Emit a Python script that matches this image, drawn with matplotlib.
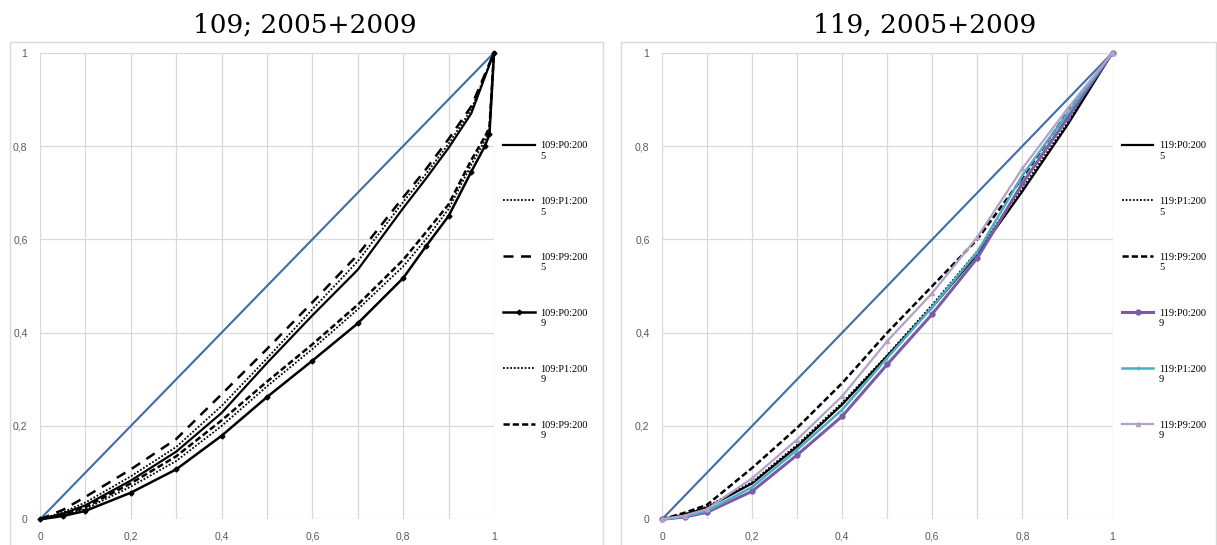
import matplotlib
matplotlib.use('Agg')
import matplotlib.pyplot as plt
from matplotlib.patches import Rectangle
from matplotlib.legend_handler import HandlerLine2D

# left panel: 109
x05 = [0, .05, .1, .2, .3, .4, .5, .6, .7, .8, .85, .9, .95, 1]
p0_05 = [0, .012, .03, .083, .145, .228, .335, .437, .535, .667, .73, .796, .87, 1]
p1_05 = [0, .015, .036, .092, .155, .243, .345, .45, .553, .68, .74, .805, .878, 1]
p9_05 = [0, .02, .048, .107, .172, .268, .365, .465, .567, .69, .75, .815, .885, 1]

x09 = [0, .05, .1, .2, .3, .4, .5, .6, .7, .8, .85, .9, .95, .98, .99, 1]
p0_09 = [0, .007, .018, .057, .107, .179, .262, .34, .42, .517, .585, .65, .745, .80, .825, 1]
p1_09 = [0, .009, .022, .07, .125, .2, .285, .365, .45, .542, .60, .665, .76, .812, .835, 1]
p9_09 = [0, .01, .026, .077, .135, .212, .295, .375, .46, .556, .615, .675, .77, .82, .84, 1]

# right panel: 119
xr = [0, .05, .1, .2, .3, .4, .5, .6, .7, .8, .9, 1]
r_p0_05 = [0, .01, .025, .077, .156, .246, .35, .455, .568, .703, .845, 1]
r_p1_05 = [0, .011, .027, .08, .16, .25, .352, .46, .575, .71, .85, 1]
r_p9_05 = [0, .014, .031, .11, .196, .292, .40, .50, .60, .732, .872, 1]
r_p0_09 = [0, .005, .015, .06, .138, .221, .332, .44, .56, .72, .86, 1]
r_p1_09 = [0, .006, .018, .069, .149, .235, .346, .455, .573, .737, .87, 1]
r_p9_09 = [0, .008, .022, .088, .171, .264, .382, .485, .605, .752, .88, 1]

diag = [0, 1]
ticks_y = [0, 0.2, 0.4, 0.6, 0.8, 1]
tick_lbl = ['0', '0,2', '0,4', '0,6', '0,8', '1']
xtick_lbl = ['0', '', '0,2', '', '0,4', '', '0,6', '', '0,8', '', '1']

W, H = 1217, 545
fig = plt.figure(figsize=(W/100, H/100), dpi=100)
fig.patch.set_facecolor('white')

# panel frames
for (x0, x1) in [(10, 603), (621, 1216)]:
    fig.patches.append(Rectangle((x0/W, -0.01), (x1-x0)/W, 1.01-42/H,
                                 transform=fig.transFigure, fill=False,
                                 edgecolor='#d9d9d9', lw=1.0))

bottom = 1 - 519.3/H
height = (519.3-52.7)/H
axL = fig.add_axes([40/W, bottom, (494-40)/W, height])
axR = fig.add_axes([662/W, bottom, (1112.5-662)/W, height])

blue = '#3f6ca6'


class TopLine(HandlerLine2D):
    # put the legend line level with the first line of the wrapped label
    def create_artists(self, legend, orig_handle, xdescent, ydescent,
                       width, height, fontsize, trans):
        arts = super().create_artists(legend, orig_handle, xdescent, ydescent,
                                      width, height, fontsize, trans)
        for a in arts:
            a.set_ydata([y + 0.6*fontsize for y in a.get_ydata()])
        return arts


def style(ax):
    ax.set_xlim(0, 1)
    ax.set_ylim(0, 1)
    ax.set_xticks([i/10 for i in range(11)])
    ax.set_yticks(ticks_y)
    ax.grid(True, color='#d9d9d9', lw=0.9)
    ax.set_axisbelow(True)
    for s in ax.spines.values():
        s.set_visible(False)
    ax.tick_params(length=0, labelsize=7.5, colors='#595959')
    ax.set_yticklabels(tick_lbl, family='Liberation Sans')
    ax.set_xticklabels(xtick_lbl, family='Liberation Sans')
    ax.tick_params(axis='y', pad=9)
    ax.tick_params(axis='x', pad=9)

style(axL)
style(axR)

k = dict(clip_on=False)
axL.plot(diag, diag, color=blue, lw=1.5, label='_nolegend_', **k)
axL.plot(x05, p0_05, color='black', lw=1.6, label='109:P0:200\n5', **k)
axL.plot(x05, p1_05, color='black', lw=1.3, ls=(0, (1, 1)), label='109:P1:200\n5', **k)
axL.plot(x05, p9_05, color='black', lw=1.8, ls=(0, (4, 3)), label='109:P9:200\n5', **k)
axL.plot(x09, p0_09, color='black', lw=1.8, marker='D', ms=2.5, label='109:P0:200\n9', **k)
axL.plot(x09, p1_09, color='black', lw=1.3, ls=(0, (1, 1)), label='109:P1:200\n9', **k)
axL.plot(x09, p9_09, color='black', lw=1.8, ls=(0, (2.5, 1.2)), label='109:P9:200\n9', **k)

axR.plot(diag, diag, color=blue, lw=1.5, label='_nolegend_', **k)
axR.plot(xr, r_p0_05, color='black', lw=1.6, label='119:P0:200\n5', **k)
axR.plot(xr, r_p1_05, color='black', lw=1.3, ls=(0, (1, 1)), label='119:P1:200\n5', **k)
axR.plot(xr, r_p9_05, color='black', lw=1.8, ls=(0, (2.5, 1.2)), label='119:P9:200\n5', **k)
axR.plot(xr, r_p0_09, color='#7b5aa6', lw=2.2, marker='o', ms=3.5, label='119:P0:200\n9', **k)
axR.plot(xr, r_p1_09, color='#4bacc6', lw=1.8, marker='|', ms=3, label='119:P1:200\n9', **k)
axR.plot(xr, r_p9_09, color='#b3a2c7', lw=1.6, marker='^', ms=3, label='119:P9:200\n9', **k)

for ax in (axL, axR):
    ax.legend(loc='center left', bbox_to_anchor=(1.0, 0.49), frameon=False,
              prop={'family': 'Liberation Serif', 'size': 7.5},
              handlelength=3.0, handletextpad=0.55, labelspacing=3.5,
              borderaxespad=0.9, borderpad=0,
              handler_map={matplotlib.lines.Line2D: TopLine()})

fig.text(305/W, 1 - 25/H, '109; 2005+2009', ha='center', va='center',
         family='DejaVu Serif', fontsize=19)
fig.text(925/W, 1 - 25/H, '119, 2005+2009', ha='center', va='center',
         family='DejaVu Serif', fontsize=19)

fig.savefig('out.png', dpi=100)
